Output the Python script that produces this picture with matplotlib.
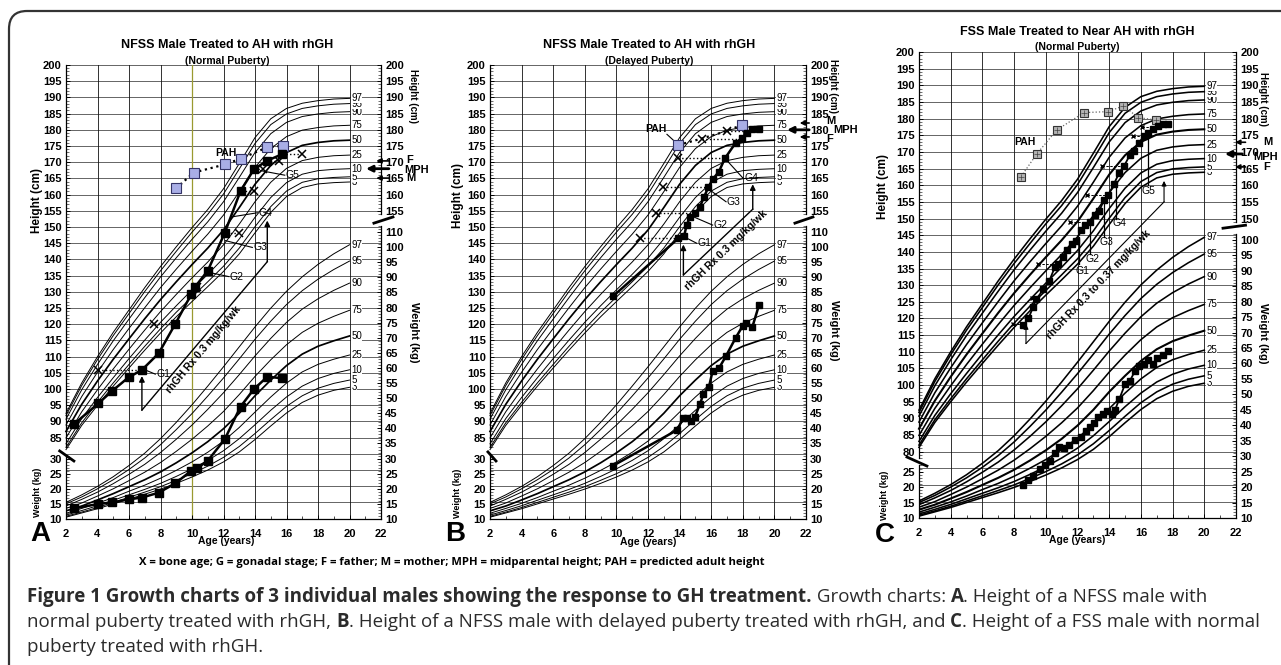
import matplotlib
matplotlib.use("Agg")
import matplotlib.pyplot as plt
from matplotlib.patches import FancyBboxPatch
from matplotlib.transforms import IdentityTransform
from matplotlib.ticker import FixedLocator

# ---------------- reference percentile data (ages 2..20) ----------------
AGES = [2, 3, 4, 5, 6, 7, 8, 9, 10, 11, 12, 13, 14, 15, 16, 17, 18, 19, 20]
PCT = ['3', '5', '10', '25', '50', '75', '90', '95', '97']

H3 = [81.3, 88.8, 95.0, 100.9, 106.5, 112.0, 117.3, 122.3, 127.0, 131.6, 136.3, 141.7, 148.2, 154.5, 159.4, 162.2, 163.3, 163.7, 163.9]
H5 = [82.0, 89.6, 95.9, 101.9, 107.6, 113.2, 118.6, 123.7, 128.4, 133.1, 137.9, 143.5, 150.1, 156.3, 161.1, 163.8, 164.9, 165.3, 165.5]
H10 = [83.1, 90.9, 97.4, 103.5, 109.4, 115.1, 120.6, 125.7, 130.6, 135.4, 140.4, 146.3, 153.0, 159.1, 163.7, 166.3, 167.4, 167.8, 168.0]
H25 = [84.9, 93.0, 99.8, 106.2, 112.3, 118.2, 123.9, 129.2, 134.3, 139.2, 144.5, 150.9, 157.8, 163.8, 168.1, 170.5, 171.5, 172.0, 172.2]
H50 = [86.9, 95.3, 102.5, 109.2, 115.5, 121.7, 127.6, 133.1, 138.4, 143.5, 149.1, 156.0, 163.2, 169.0, 173.0, 175.2, 176.1, 176.6, 176.8]
H75 = [88.9, 97.7, 105.2, 112.2, 118.7, 125.1, 131.3, 137.0, 142.5, 147.8, 153.7, 160.9, 168.4, 174.2, 177.9, 179.9, 180.7, 181.2, 181.4]
H90 = [90.7, 99.8, 107.6, 114.9, 121.6, 128.2, 134.6, 140.5, 146.2, 151.6, 157.8, 165.3, 173.0, 178.8, 182.3, 184.1, 184.9, 185.4, 185.6]
H95 = [91.8, 101.1, 109.1, 116.5, 123.3, 130.1, 136.5, 142.5, 148.4, 153.9, 160.2, 167.9, 175.8, 181.6, 184.9, 186.6, 187.4, 187.9, 188.1]
H97 = [92.5, 101.9, 110.0, 117.5, 124.4, 131.3, 137.8, 143.9, 149.8, 155.4, 161.8, 169.6, 177.6, 183.4, 186.6, 188.2, 189.0, 189.5, 189.7]

W3 = [10.6, 12.0, 13.4, 15.0, 16.6, 18.2, 19.9, 21.8, 23.9, 26.2, 28.9, 32.2, 36.3, 40.8, 45.1, 48.6, 51.0, 52.6, 53.6]
W5 = [10.9, 12.3, 13.8, 15.5, 17.2, 18.9, 20.7, 22.8, 25.0, 27.5, 30.4, 34.0, 38.3, 42.9, 47.3, 50.8, 53.3, 54.9, 56.0]
W10 = [11.3, 12.8, 14.4, 16.2, 18.0, 19.8, 21.8, 24.1, 26.6, 29.4, 32.6, 36.6, 41.2, 46.0, 50.4, 54.0, 56.5, 58.2, 59.4]
W25 = [11.9, 13.5, 15.2, 17.1, 19.2, 21.2, 23.5, 26.1, 28.9, 32.1, 35.8, 40.3, 45.4, 50.4, 55.0, 58.7, 61.2, 62.9, 64.3]
W50 = [12.7, 14.3, 16.3, 18.4, 20.7, 23.0, 25.6, 28.6, 31.9, 35.6, 39.9, 45.0, 50.8, 56.0, 60.8, 64.6, 67.2, 69.0, 70.6]
W75 = [13.5, 15.3, 17.6, 20.0, 22.7, 25.5, 28.7, 32.4, 36.4, 40.8, 45.6, 51.2, 57.2, 62.7, 67.7, 71.8, 74.8, 77.1, 79.1]
W90 = [14.3, 16.5, 18.9, 21.7, 24.8, 28.1, 32.0, 36.4, 41.1, 46.3, 51.8, 57.8, 64.0, 69.8, 75.1, 79.5, 82.9, 85.7, 88.1]
W95 = [15.0, 17.3, 20.0, 23.0, 26.4, 30.2, 34.6, 39.6, 44.9, 50.7, 56.7, 63.0, 69.5, 75.5, 81.0, 85.6, 89.4, 92.6, 95.4]
W97 = [15.5, 18.0, 20.8, 24.0, 27.7, 31.8, 36.6, 42.0, 47.8, 54.0, 60.4, 67.0, 73.6, 79.8, 85.4, 90.2, 94.3, 97.8, 100.8]

HEIGHT_P = [H3, H5, H10, H25, H50, H75, H90, H95, H97]
WEIGHT_P = [W3, W5, W10, W25, W50, W75, W90, W95, W97]

# ---------------- patient data ----------------
A_H_AGE = [2.51, 4.06, 4.95, 5.97, 6.82, 7.88, 8.94, 9.96, 10.17, 11.0, 12.08, 13.08, 13.93, 14.78, 15.74]
A_H_CM = [89.2, 95.6, 99.5, 103.6, 105.9, 111.0, 120.1, 129.3, 131.4, 136.5, 148.2, 161.1, 167.8, 170.5, 172.5]
A_W_AGE = [2.51, 4.06, 4.95, 5.97, 6.82, 7.88, 8.94, 9.96, 10.32, 11.0, 12.08, 13.08, 13.93, 14.78, 15.74]
A_W_KG = [13.5, 15.0, 15.5, 16.5, 17.1, 18.7, 21.8, 26.0, 26.8, 29.3, 36.4, 47.2, 53.0, 57.1, 56.6]
A_PAH_AGE = [8.98, 10.11, 12.08, 13.10, 14.78, 15.78]
A_PAH_CM = [161.9, 166.8, 169.3, 171.1, 174.6, 175.1]
A_BA_AGE = [4.0, 7.56, 10.3, 12.98, 13.93, 14.52, 15.52, 17.0]
A_BA_CA = [6.82, 8.94, 10.17, 12.08, 13.08, 13.93, 14.78, 15.74]
A_BA_CM = [105.9, 120.1, 131.4, 148.2, 161.1, 167.8, 170.5, 172.5]

B_H_AGE = [9.80, 13.92, 14.28, 14.45, 14.66, 14.97, 15.29, 15.54, 15.82, 16.09, 16.49, 16.87, 17.55, 17.93, 18.25, 18.6, 19.04]
B_H_CM = [128.7, 146.5, 147.2, 150.6, 153.2, 154.2, 156.3, 159.2, 162.3, 164.7, 167.1, 171.2, 176.0, 177.4, 178.9, 180.2, 180.2]
B_W_AGE = [9.77, 13.86, 14.2, 14.45, 14.70, 14.97, 15.29, 15.50, 15.86, 16.09, 16.49, 16.94, 17.55, 17.99, 18.2, 18.6, 19.03]
B_W_KG = [27.6, 39.5, 43.3, 43.3, 42.4, 43.9, 48.0, 51.4, 53.8, 59.0, 59.9, 64.0, 70.0, 73.9, 75.0, 73.5, 80.9]
B_PAH_AGE = [13.92, 17.93]
B_PAH_CM = [175.3, 181.5]
B_BA_AGE = [11.49, 12.51, 12.97, 13.92, 15.40, 16.97]
B_BA_CA = [13.92, 14.97, 15.82, 16.87, 17.93, 18.6]
B_BA_CM = [146.5, 154.4, 162.5, 171.2, 177.3, 179.6]

C_H_AGE = [8.59, 8.90, 9.21, 9.38, 9.85, 10.22, 10.58, 10.79, 11.07, 11.32, 11.64, 11.91, 12.20, 12.48, 12.79, 13.10,
           13.38, 13.67, 13.95, 14.30, 14.64, 14.94, 15.31, 15.57, 15.88, 16.20, 16.47, 16.79, 17.10, 17.42, 17.73]
C_H_CM = [118.0, 120.0, 123.5, 125.7, 128.7, 131.3, 135.5, 136.5, 138.5, 140.7, 142.5, 143.3, 146.5, 148.0, 149.0, 151.0,
          152.3, 155.6, 157.1, 160.4, 163.8, 165.8, 169.1, 170.4, 172.8, 174.8, 175.8, 176.8, 177.8, 178.4, 178.4]
C_W_AGE = [8.54, 8.90, 9.21, 9.63, 9.95, 10.26, 10.58, 10.85, 11.15, 11.48, 11.84, 12.21, 12.54, 12.79, 13.04, 13.32,
           13.63, 13.88, 14.16, 14.37, 14.64, 15.00, 15.31, 15.63, 15.90, 16.20, 16.47, 16.74, 17.04, 17.37, 17.73]
C_W_KG = [20.6, 22.4, 23.6, 25.7, 27.0, 28.6, 31.0, 32.9, 32.7, 33.7, 35.1, 36.1, 38.3, 39.4, 40.6, 42.6,
          43.7, 44.5, 43.7, 45.0, 48.5, 53.3, 54.4, 57.6, 59.2, 59.9, 61.0, 59.7, 61.7, 62.7, 64.0]
C_PAH_AGE = [8.44, 9.43, 10.69, 12.41, 13.91, 14.90, 15.84, 16.95]
C_PAH_CM = [162.6, 169.4, 176.6, 181.8, 182.1, 183.8, 180.3, 179.6]
C_BA_AGE = [7.96, 9.11, 9.53, 11.53, 12.58, 13.53, 15.53, 16.05]
C_BA_CA = [8.59, 9.38, 10.79, 12.79, 13.95, 14.94, 16.2, 17.1]
C_BA_CM = [118.3, 126.0, 136.5, 149.0, 157.1, 165.8, 174.7, 177.4]

# parental heights (cm)
A_PARENTS = {'F': 170.4, 'MPH': 168.0, 'M': 165.1}
B_PARENTS = {'M': 182.1, 'MPH': 180.0, 'F': 177.8}
C_PARENTS = {'M': 172.9, 'MPH': 169.4, 'F': 165.5}

# tick labels
X_TICKS = [2, 4, 6, 8, 10, 12, 14, 16, 18, 20, 22]
HL_TICKS_AB = list(range(85, 201, 5))
HL_TICKS_C = list(range(80, 201, 5))
WL_TICKS_AB = [10, 15, 20, 25, 30]
WL_TICKS_C = [10, 15, 20, 25]
HR_TICKS_AB = [155, 160, 165, 170, 175, 180, 185, 190, 195, 200]
HR_TICKS_C = [150, 155, 160, 165, 170, 175, 180, 185, 190, 195, 200]
WR_TICKS_AB = [10, 15, 20, 25, 30, 35, 40, 45, 50, 55, 60, 65, 70, 75, 80, 85, 90, 95, 100, 105]
WR_LABELS_AB = ['10', '15', '20', '25', '30', '35', '40', '45', '50', '55', '60', '65', '70', '75', '80', '85',
                '90', '95', '100', '110']
WR_TICKS_C = [10, 15, 20, 25, 30, 35, 40, 45, 50, 55, 60, 65, 70, 75, 80, 85, 90, 95, 100]

TITLES = {'A': ("NFSS Male Treated to AH with rhGH", "(Normal Puberty)"),
          'B': ("NFSS Male Treated to AH with rhGH", "(Delayed Puberty)"),
          'C': ("FSS Male Treated to Near AH with rhGH", "(Normal Puberty)")}
RX_TEXT = {'A': "rhGH Rx 0.3 mg/kg/wk", 'B': "rhGH Rx 0.3 mg/kg/wk", 'C': "rhGH Rx 0.3 to 0.37 mg/kg/wk"}

# ---------------- figure ----------------
W_PX, H_PX = 1281, 665
plt.rcParams['font.family'] = ['Liberation Sans', 'DejaVu Sans']
fig = plt.figure(figsize=(W_PX / 100, H_PX / 100), dpi=100)
fig.patch.set_facecolor('white')


def F(px, py):
    return px / W_PX, 1 - py / H_PX


LAYOUT = {
    'A': dict(x0=66, x1=381, yt=65, yb=519, hlo=59.9, ratio=0.932, lw=0.7, lw50=1.25, plw=1.8, pms=5.5,
              title_xy=(227, 45), sub_xy=(227, 61), age_xy=(226, 541), letter_xy=(40, 534),
              hl=HL_TICKS_AB, wl=WL_TICKS_AB, hr=HR_TICKS_AB, wr=WR_TICKS_AB, wrl=WR_LABELS_AB,
              lsp_h=82, lsp_w=31, rsp_h=154, rsp_w=107,
              lslash=((1.6, 2.5), (80.9, 77.8)), rslash=((21.55, 22.76), (151.2, 153.1)),
              lab_hl=(0.15, 158.3), lab_wl=(0.2, 18.9), lab_hr=(24.04, 190.5), lab_wr=(24.1, 71.9),
              pct_fs=7.0),
    'B': dict(x0=490, x1=806, yt=65, yb=519, hlo=59.9, ratio=0.932, lw=0.7, lw50=1.25, plw=1.8, pms=5.0,
              title_xy=(649, 45), sub_xy=(649, 61), age_xy=(648, 542), letter_xy=(455, 534),
              hl=HL_TICKS_AB, wl=WL_TICKS_AB, hr=HR_TICKS_AB, wr=WR_TICKS_AB, wrl=WR_LABELS_AB,
              lsp_h=82, lsp_w=31, rsp_h=154, rsp_w=107,
              lslash=((1.87, 2.38), (80.6, 77.8)), rslash=((21.3, 22.44), (151.2, 153.1)),
              lab_hl=(-0.03, 159.6), lab_wl=(-0.03, 18.6), lab_hr=(23.71, 193.6), lab_wr=(23.75, 72.6),
              pct_fs=7.0),
    'C': dict(x0=919, x1=1236, yt=52, yb=518, hlo=60.1, ratio=0.928, lw=1.15, lw50=1.5, plw=1.3, pms=4.0,
              title_xy=(1077, 32), sub_xy=(1077, 47), age_xy=(1077, 540), letter_xy=(885, 535),
              hl=HL_TICKS_C, wl=WL_TICKS_C, hr=HR_TICKS_C, wr=WR_TICKS_C, wrl=[str(v) for v in WR_TICKS_C],
              lsp_h=78, lsp_w=27, rsp_h=149, rsp_w=102,
              lslash=((1.24, 2.5), (78.4, 75.7)), rslash=((21.18, 22.6), (147.1, 148.0)),
              lab_hl=(-0.27, 159.5), lab_wl=(-0.15, 17.4), lab_hr=(23.7, 186.0), lab_wr=(23.7, 69.9),
              pct_fs=7.0),
}

BOLD8 = dict(fontsize=8, fontweight='bold')


def make_panel(key):
    L = LAYOUT[key]
    x0, y0 = F(L['x0'], L['yb'])
    ax = fig.add_axes([x0, y0, (L['x1'] - L['x0']) / W_PX, (L['yb'] - L['yt']) / H_PX])
    ax.set_xlim(2, 22)
    ax.set_ylim(L['hlo'], 200)
    whi = 10 + (200 - L['hlo']) / L['ratio']
    axw = ax.twinx()
    axw.set_ylim(10, whi)
    axhr = ax.twinx()
    axhr.set_ylim(L['hlo'], 200)
    axwl = ax.twinx()
    axwl.set_ylim(10, whi)
    axwl.yaxis.set_ticks_position('left')
    for a in (ax, axw, axhr, axwl):
        for s in ('left', 'right', 'top', 'bottom'):
            a.spines[s].set_visible(False)
        a.set_facecolor('none')
    ax.spines['bottom'].set_visible(True)
    ax.spines['bottom'].set_linewidth(0.9)

    # grid
    for h in range(60, 201, 5):
        ax.axhline(h, color='#3a3a3a', lw=0.55, zorder=0.5)
    for a in range(4, 21, 2):
        ax.axvline(a, color='#111111', lw=0.6, zorder=0.5)
    if key == 'A':
        ax.axvline(10, color='#9a9a30', lw=0.9, zorder=0.6)

    # ticks
    ax.set_xticks(X_TICKS, labels=[str(v) for v in X_TICKS], **BOLD8)
    ax.xaxis.set_minor_locator(FixedLocator(list(range(3, 22, 2))))
    ax.tick_params(axis='x', which='major', direction='in', length=3, width=0.7, pad=7)
    ax.tick_params(axis='x', which='minor', direction='in', length=2, width=0.5)

    ax.set_yticks(L['hl'], labels=[str(v) for v in L['hl']], **BOLD8)
    ax.yaxis.set_minor_locator(FixedLocator(list(range(L['lsp_h'], 201))))
    axhr.set_yticks(L['hr'], labels=[str(v) for v in L['hr']], **BOLD8)
    axhr.yaxis.set_minor_locator(FixedLocator(list(range(L['rsp_h'], 201))))
    axwl.set_yticks(L['wl'], labels=[str(v) for v in L['wl']], **BOLD8)
    axwl.yaxis.set_minor_locator(FixedLocator(list(range(10, L['lsp_w'] + 1))))
    axw.set_yticks(L['wr'], labels=L['wrl'], **BOLD8)
    axw.yaxis.set_minor_locator(FixedLocator(list(range(10, L['rsp_w'] + 1))))
    for a in (ax, axwl, axhr, axw):
        a.tick_params(axis='y', which='major', direction='in', length=3, width=0.7, pad=3)
        a.tick_params(axis='y', which='minor', direction='in', length=2, width=0.4)

    # broken spines
    sp = dict(color='k', lw=0.9, clip_on=False, zorder=6)
    ax.plot([2, 2], [L['lsp_h'], 200], **sp)
    axw.plot([2, 2], [10, L['lsp_w']], **sp)
    ax.plot([22, 22], [L['rsp_h'], 200], **sp)
    axw.plot([22, 22], [10, L['rsp_w']], **sp)
    ax.plot(L['lslash'][0], L['lslash'][1], color='k', lw=2.0, clip_on=False, zorder=6)
    ax.plot(L['rslash'][0], L['rslash'][1], color='k', lw=2.0, clip_on=False, zorder=6)

    # percentile curves
    for lab, vals in zip(PCT, HEIGHT_P):
        ax.plot(AGES, vals, color='k', lw=L['lw50'] if lab == '50' else L['lw'], zorder=2, clip_on=False)
        ax.text(20.12, vals[-1], lab, fontsize=L['pct_fs'], va='center', ha='left', zorder=3,
                bbox=dict(facecolor='white', edgecolor='none', pad=0.1))
    for lab, vals in zip(PCT, WEIGHT_P):
        axw.plot(AGES, vals, color='k', lw=L['lw50'] if lab == '50' else L['lw'], zorder=2)
        axw.text(20.12, vals[-1], lab, fontsize=L['pct_fs'], va='center', ha='left', zorder=3,
                 bbox=dict(facecolor='white', edgecolor='none', pad=0.1))

    # axis titles / labels
    fig.text(*F(*L['title_xy']), TITLES[key][0], fontsize=9, fontweight='bold', ha='center', va='center')
    fig.text(*F(*L['sub_xy']), TITLES[key][1], fontsize=7.5, fontweight='bold', ha='center', va='center')
    fig.text(*F(*L['age_xy']), "Age (years)", fontsize=7.5, fontweight='bold', ha='center', va='center')
    fig.text(*F(*L['letter_xy']), key, fontsize=20, fontweight='bold', ha='center', va='center')
    ax.text(*L['lab_hl'], "Height (cm)", rotation=90, fontsize=8.5, fontweight='bold', ha='center', va='center')
    axw.text(*L['lab_wl'], "Weight (kg)", rotation=90, fontsize=6.5, fontweight='bold', ha='center', va='center')
    ax.text(*L['lab_hr'], "Height (cm)", rotation=270, fontsize=7, fontweight='bold', ha='center', va='center')
    axw.text(*L['lab_wr'], "Weight (kg)", rotation=270, fontsize=8, fontweight='bold', ha='center', va='center')
    return ax, axw, L


def arrow(a, tail, head, lw=1.0, ms=8):
    a.annotate('', xy=head, xytext=tail, annotation_clip=False,
               arrowprops=dict(arrowstyle='-|>', color='k', lw=lw, mutation_scale=ms, shrinkA=0, shrinkB=0))


def leader(a, p0, p1, lw=0.8):
    a.plot([p0[0], p1[0]], [p0[1], p1[1]], color='k', lw=lw, zorder=4)


def gtext(a, xy, s, ha='left', fs=7.5):
    a.text(xy[0], xy[1], s, fontsize=fs, ha=ha, va='center', zorder=5)


# ================= Panel A =================
ax, axw, L = make_panel('A')
ax.plot(A_PAH_AGE, A_PAH_CM, ls=':', color='k', lw=1.6, zorder=4)
ax.plot(A_PAH_AGE, A_PAH_CM, ls='none', marker='s', ms=6.5, mfc='#a9aee6', mec='#333366', mew=0.8, zorder=5)
ax.text(12.13, 172.9, "PAH", fontsize=7.5, fontweight='bold', ha='center', va='center')
for ba, ca, h in zip(A_BA_AGE, A_BA_CA, A_BA_CM):
    ax.plot([ba, ca], [h, h], ls=':', color='k', lw=1.0, zorder=4)
ax.plot(A_BA_AGE, A_BA_CM, ls='none', marker='x', ms=5.5, mew=1.1, color='k', zorder=5)
ax.plot(A_H_AGE, A_H_CM, color='k', lw=L['plw'], marker='s', ms=L['pms'], zorder=6)
axw.plot(A_W_AGE, A_W_KG, color='k', lw=L['plw'], marker='s', ms=L['pms'], zorder=6)
# gonadal stages
for s, p0, p1 in [("G1", (7.03, 105.9), (7.67, 104.6)), ("G2", (11.17, 135.9), (12.34, 134.7)),
                  ("G3", (12.13, 145.8), (13.83, 143.7)), ("G4", (12.62, 153.2), (14.15, 154.4)),
                  ("G5", (14.36, 167.4), (15.89, 166.0))]:
    leader(ax, p0, p1)
    gtext(ax, (p1[0] + 0.05, p1[1]), s)
# treatment bracket
ax.plot([6.82, 14.78], [93.5, 139.3], color='k', lw=1.0, zorder=4)
arrow(ax, (6.82, 93.5), (6.82, 104.0))
arrow(ax, (14.78, 139.3), (14.78, 152.0))
ax.text(10.75, 112.3, RX_TEXT['A'], rotation=50, rotation_mode='anchor', fontsize=7.5, fontweight='bold',
        ha='center', va='center')
# parents
arrow(ax, (22.5, A_PARENTS['F']), (21.7, A_PARENTS['F']), lw=1.2, ms=7)
arrow(ax, (22.5, A_PARENTS['M']), (21.7, A_PARENTS['M']), lw=1.2, ms=7)
arrow(ax, (22.5, A_PARENTS['MPH']), (21.05, A_PARENTS['MPH']), lw=2.0, ms=9)
ax.text(23.6, A_PARENTS['F'] + 0.3, "F", **BOLD8, va='center')
ax.text(23.45, A_PARENTS['MPH'] - 0.3, "MPH", **BOLD8, va='center')
ax.text(23.6, A_PARENTS['M'], "M", **BOLD8, va='center')

# ================= Panel B =================
ax, axw, L = make_panel('B')
pah_path_age = [B_PAH_AGE[0], B_BA_AGE[4], B_BA_AGE[5], B_PAH_AGE[1]]
pah_path_cm = [B_PAH_CM[0], B_BA_CM[4], B_BA_CM[5], B_PAH_CM[1]]
ax.plot(pah_path_age, pah_path_cm, ls=':', color='k', lw=1.6, zorder=4)
ax.plot(B_PAH_AGE, B_PAH_CM, ls='none', marker='s', ms=6.5, mfc='#a9aee6', mec='#333366', mew=0.8, zorder=5)
ax.text(12.5, 180.2, "PAH", fontsize=7.5, fontweight='bold', ha='center', va='center')
leader(ax, (13.2, 178.6), (13.85, 175.7))
for ba, ca, h in zip(B_BA_AGE, B_BA_CA, B_BA_CM):
    ax.plot([ba, ca], [h, h], ls=':', color='k', lw=1.0, zorder=4)
ax.plot(B_BA_AGE, B_BA_CM, ls='none', marker='x', ms=5.5, mew=1.1, color='k', zorder=5)
ax.plot(B_H_AGE, B_H_CM, color='k', lw=L['plw'], marker='s', ms=L['pms'], zorder=6)
axw.plot(B_W_AGE, B_W_KG, color='k', lw=L['plw'], marker='s', ms=L['pms'], zorder=6)
for s, p0, p1 in [("G1", (14.28, 147.0), (15.08, 145.0)), ("G2", (14.76, 153.4), (16.09, 150.6)),
                  ("G3", (15.92, 161.4), (16.94, 157.8)), ("G4", (16.87, 171.2), (18.03, 165.0))]:
    leader(ax, p0, p1)
    gtext(ax, (p1[0] + 0.05, p1[1]), s)
ax.plot([14.24, 18.63], [135.2, 155.5], color='k', lw=1.0, zorder=4)
arrow(ax, (14.24, 135.2), (14.24, 144.6))
arrow(ax, (18.63, 155.5), (18.63, 163.2))
ax.text(16.95, 142.8, RX_TEXT['B'], rotation=44, rotation_mode='anchor', fontsize=7.5, fontweight='bold',
        ha='center', va='center')
arrow(ax, (22.2, B_PARENTS['M']), (21.6, B_PARENTS['M']), lw=1.2, ms=7)
arrow(ax, (22.2, B_PARENTS['F']), (21.6, B_PARENTS['F']), lw=1.2, ms=7)
arrow(ax, (22.2, B_PARENTS['MPH']), (20.8, B_PARENTS['MPH']), lw=2.0, ms=9)
ax.text(23.3, B_PARENTS['M'] + 0.6, "M", **BOLD8, va='center')
ax.text(23.3, B_PARENTS['F'] - 0.6, "F", **BOLD8, va='center')
ax.text(23.75, B_PARENTS['MPH'], "MPH", **BOLD8, va='center')

# ================= Panel C =================
ax, axw, L = make_panel('C')
ax.plot(C_PAH_AGE, C_PAH_CM, ls=':', color='#666666', lw=0.9, zorder=4)
ax.plot(C_PAH_AGE, C_PAH_CM, ls='none', marker='s', ms=6, mfc='#b3b3b3', mec='#333333', mew=0.8, zorder=5)
ax.plot(C_PAH_AGE, C_PAH_CM, ls='none', marker='+', ms=4, mew=0.5, color='#444444', zorder=5)
ax.text(8.69, 173.1, "PAH", fontsize=7.5, fontweight='bold', ha='center', va='center')
for ba, ca, h in zip(C_BA_AGE, C_BA_CA, C_BA_CM):
    ax.plot([ba, ca], [h, h], ls=(0, (2.5, 1.5)), color='k', lw=0.7, zorder=4)
ax.plot(C_BA_AGE, C_BA_CM, ls='none', marker='x', ms=3.5, mew=1.0, color='k', zorder=5)
ax.plot(C_H_AGE, C_H_CM, color='k', lw=L['plw'], marker='s', ms=L['pms'], zorder=6)
axw.plot(C_W_AGE, C_W_KG, color='k', lw=L['plw'], marker='s', ms=L['pms'], zorder=6)
for s, x, ytop, ybot, tx, ty in [("G1", 12.12, 144.5, 136.5, 12.3, 134.2), ("G2", 12.79, 149.0, 139.3, 12.95, 137.8),
                                 ("G3", 13.67, 155.6, 144.6, 13.8, 143.1), ("G4", 14.43, 160.4, 149.9, 14.65, 148.8),
                                 ("G5", 16.47, 175.8, 160.1, 16.47, 158.3)]:
    leader(ax, (x, ytop), (x, ybot), lw=0.9)
    gtext(ax, (tx, ty), s, ha='center')
ax.plot([8.75, 17.46], [112.5, 155.0], color='k', lw=0.8, zorder=4)
arrow(ax, (8.75, 112.5), (8.75, 118.3), lw=0.8, ms=7)
arrow(ax, (17.46, 155.0), (17.46, 161.3), lw=0.8, ms=7)
ax.text(13.36, 130.3, RX_TEXT['C'], rotation=46.5, rotation_mode='anchor', fontsize=7.5, fontweight='bold',
        ha='center', va='center')
arrow(ax, (22.6, C_PARENTS['M']), (21.94, C_PARENTS['M']), lw=1.2, ms=7)
arrow(ax, (22.6, C_PARENTS['F']), (21.94, C_PARENTS['F']), lw=1.2, ms=7)
arrow(ax, (22.4, C_PARENTS['MPH']), (21.3, C_PARENTS['MPH']), lw=2.0, ms=9)
ax.text(23.7, C_PARENTS['M'], "M", **BOLD8, va='center')
ax.text(23.7, C_PARENTS['F'], "F", **BOLD8, va='center')
ax.text(23.1, C_PARENTS['MPH'] - 0.8, "MPH", **BOLD8, va='center')

# ================= footnote & caption =================
fig.text(*F(452, 563), "X = bone age; G = gonadal stage; F = father; M = mother; MPH = midparental height; "
         "PAH = predicted adult height", fontsize=8.1, fontweight='bold', family='Open Sans',
         ha='center', va='center')

CAP_FAMILY = 'Open Sans'
CAP_SIZE = 13.5
CAP_COLOR = '#2b2b2b'
renderer = fig.canvas.get_renderer()


def seg_width(s, weight):
    t1 = fig.text(0, 0, '|' + s + '|', fontsize=CAP_SIZE, fontweight=weight, family=CAP_FAMILY)
    t2 = fig.text(0, 0, '||', fontsize=CAP_SIZE, fontweight=weight, family=CAP_FAMILY)
    w = t1.get_window_extent(renderer).width - t2.get_window_extent(renderer).width
    t1.remove()
    t2.remove()
    return w


def rich_line(x_px, y_px, segs):
    x = x_px
    for s, wt in segs:
        fig.text(*F(x, y_px), s, fontsize=CAP_SIZE, fontweight=wt, family=CAP_FAMILY, color=CAP_COLOR,
                 ha='left', va='baseline')
        x += seg_width(s, wt)


rich_line(27, 602, [("Figure 1 Growth charts of 3 individual males showing the response to GH treatment.", 'bold'),
                    (" Growth charts: ", 'normal'), ("A", 'bold'), (". Height of a NFSS male with", 'normal')])
rich_line(27, 627, [("normal puberty treated with rhGH, ", 'normal'), ("B", 'bold'),
                    (". Height of a NFSS male with delayed puberty treated with rhGH, and ", 'normal'),
                    ("C", 'bold'), (". Height of a FSS male with normal", 'normal')])
rich_line(27, 652, [("puberty treated with rhGH.", 'normal')])

# rounded frame
frame = FancyBboxPatch((9, -60), 1400, 714, boxstyle="round,pad=0,rounding_size=18",
                       transform=IdentityTransform(), facecolor='none', edgecolor='#333333', lw=1.6)
fig.add_artist(frame)

fig.savefig("out.png", dpi=100)
